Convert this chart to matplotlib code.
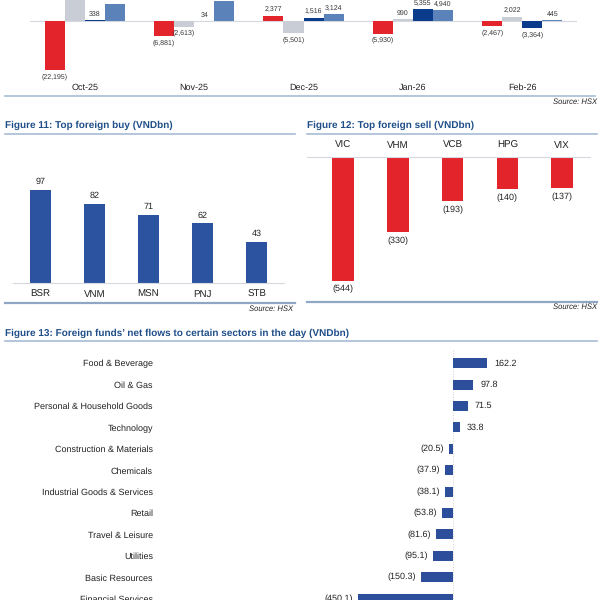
import matplotlib
matplotlib.use("Agg")
import matplotlib.pyplot as plt
from matplotlib.lines import Line2D
import numpy as np

plt.rcParams['font.family'] = ['Liberation Sans', 'DejaVu Sans']
plt.rcParams['text.hinting'] = 'no_hinting'

# ---------------- data ----------------
months = ["Oct-25", "Nov-25", "Dec-25", "Jan-26", "Feb-26"]
series_red = [-22195, -6881, 2377, -5930, -2467]
series_grey = [12500, -2613, -5501, 990, 2022]
series_dark = [338, 34, 1516, 5355, -3364]
series_mid = [7500, 9000, 3124, 4940, 445]

buy_tickers = ["BSR", "VNM", "MSN", "PNJ", "STB"]
buy_values = [97, 82, 71, 62, 43]

sell_tickers = ["VIC", "VHM", "VCB", "HPG", "VIX"]
sell_values = [-544, -330, -193, -140, -137]

sectors = ["Food & Beverage", "Oil & Gas", "Personal & Household Goods", "Technology",
           "Construction & Materials", "Chemicals", "Industrial Goods & Services", "Retail",
           "Travel & Leisure", "Utilities", "Basic Resources", "Financial Services"]
sector_values = [162.2, 97.8, 71.5, 33.8, -20.5, -37.9, -38.1, -53.8, -81.6, -95.1, -150.3, -450.1]

# ---------------- styles ----------------
RED = '#E3242B'
GREY = '#C9CED6'
DARK = '#0B3C8C'
MID = '#5B82B9'
BLUE11 = '#2B53A0'
BLUE13 = '#2D4F9B'
TITLE_C = '#1F4E89'
TXT = '#222222'
RULE = '#A9BCD4'
RULE2 = '#8FA6C4'

W = H = 600
fig = plt.figure(figsize=(6, 6), dpi=100)
fig.patch.set_facecolor('white')

def rect(l, t, r, b):
    return [l / W, 1 - b / H, (r - l) / W, (b - t) / H]

def hline(y, x0, x1, color=RULE, lw=1.2):
    fig.add_artist(Line2D([x0 / W, x1 / W], [1 - y / H, 1 - y / H], color=color, lw=lw,
                          transform=fig.transFigure))

def ftext(x, y, s, **kw):
    fig.text(x / W, 1 - y / H, s, **kw)

def fmt0(v):
    return f"{v:,.0f}" if v >= 0 else f"({-v:,.0f})"

def fmt1(v):
    return f"{v:,.1f}" if v >= 0 else f"({-v:,.1f})"

def clean(ax):
    for s in ax.spines.values():
        s.set_visible(False)
    ax.tick_params(length=0)
    ax.set_yticks([])

# ---------------- top chart (cropped at the top of the page) ----------------
ax0 = fig.add_axes(rect(30, -30, 577, 82))
clean(ax0)
x = np.arange(len(months))
bw = 20 / 109
allser = [series_red, series_grey, series_dark, series_mid]
cols = [RED, GREY, DARK, MID]
LABEL_LIMIT = 7000  # labels above this sit beyond the cropped top edge
for i, (vals, c) in enumerate(zip(allser, cols)):
    xs = x + (i - 1.5) * bw
    ax0.bar(xs, vals, width=bw, color=c, zorder=2)
    for xi, v in zip(xs, vals):
        if v > LABEL_LIMIT:
            continue
        ax0.annotate(fmt0(v), (xi, v), xytext=(0, 2 if v >= 0 else -2), textcoords='offset points',
                     ha='center', va='bottom' if v >= 0 else 'top', fontsize=5, color='#333333')
ax0.axhline(0, color='#D5D9DF', lw=0.8, zorder=1)
ax0.set_xlim(-0.5, 4.5)
ax0.set_ylim(-27450, 22950)
ax0.set_xticks(x)
ax0.set_xticklabels(months, fontsize=6.5, color=TXT)
ax0.tick_params(axis='x', pad=1)
hline(96, 5, 595)
ftext(597, 102, "Source: HSX", ha='right', va='center', fontsize=5.5, style='italic', color=TXT)

# ---------------- Figure 11 ----------------
ftext(5, 125, "Figure 11: Top foreign buy (VNDbn)", fontsize=7.2, fontweight='bold',
      color=TITLE_C, va='center', ha='left')
hline(134, 5, 295)
ax1 = fig.add_axes(rect(13, 145, 284, 283))
clean(ax1)
x1 = np.arange(len(buy_tickers))
ax1.bar(x1, buy_values, width=0.39, color=BLUE11, zorder=2)
for xi, v in zip(x1, buy_values):
    ax1.annotate(fmt0(v), (xi, v), xytext=(0, 3), textcoords='offset points',
                 ha='center', va='bottom', fontsize=6.5, color=TXT)
ax1.set_xlim(-0.5, 4.5)
ax1.set_ylim(0, 143.75)
ax1.spines['bottom'].set_visible(True)
ax1.spines['bottom'].set_color('#D5D9DF')
ax1.set_xticks(x1)
ax1.set_xticklabels(buy_tickers, fontsize=7, color=TXT)
ax1.tick_params(axis='x', pad=5)
hline(302.5, 5, 295, color=RULE2, lw=1.6)
ftext(293, 309, "Source: HSX", ha='right', va='center', fontsize=5.5, style='italic', color=TXT)

# ---------------- Figure 12 ----------------
ftext(307, 125, "Figure 12: Top foreign sell (VNDbn)", fontsize=7.2, fontweight='bold',
      color=TITLE_C, va='center', ha='left')
hline(134, 307, 597)
ax2 = fig.add_axes(rect(307, 157.3, 590, 295))
clean(ax2)
x2 = np.arange(len(sell_tickers))
ax2.bar(x2, sell_values, width=0.39, color=RED, zorder=2)
for xi, v in zip(x2, sell_values):
    ax2.annotate(fmt0(v), (xi, v), xytext=(0, -3), textcoords='offset points',
                 ha='center', va='top', fontsize=6.5, color=TXT)
ax2.set_xlim(-0.66, 4.51)
ax2.set_ylim(-608, 0)
ax2.spines['top'].set_visible(True)
ax2.spines['top'].set_color('#D5D9DF')
ax2.xaxis.tick_top()
ax2.set_xticks(x2)
ax2.set_xticklabels(sell_tickers, fontsize=7, color=TXT)
ax2.tick_params(axis='x', pad=5)
hline(302, 307, 597, color=RULE2, lw=1.6)
ftext(597, 307, "Source: HSX", ha='right', va='center', fontsize=5.5, style='italic', color=TXT)

# ---------------- Figure 13 ----------------
ftext(5, 333, "Figure 13: Foreign funds\u2019 net flows to certain sectors in the day (VNDbn)",
      fontsize=7.2, fontweight='bold', color=TITLE_C, va='center', ha='left')
hline(341, 5, 597)
ax3 = fig.add_axes(rect(157, 350, 597, 610))
clean(ax3)
y3 = np.arange(len(sectors))
ax3.barh(y3, sector_values, height=0.47, color=BLUE13, zorder=2)
for yi, v in zip(y3, sector_values):
    ax3.annotate(fmt1(v), (v, yi), xytext=(5 if v >= 0 else -3.6, 0), textcoords='offset points',
                 ha='left' if v >= 0 else 'right', va='center', fontsize=6.5, color=TXT)
ax3.axvline(0, color='#D0D0D0', lw=0.7, ls=':', zorder=1)
ax3.set_xlim(-1409, 686)
ax3.set_ylim(11.53, -0.62)
ax3.set_xticks([])
ax3.set_yticks(y3)
ax3.set_yticklabels(sectors, fontsize=6.5, color=TXT)
ax3.tick_params(axis='y', pad=3)

fig.savefig("out.png", dpi=100, facecolor='white')
